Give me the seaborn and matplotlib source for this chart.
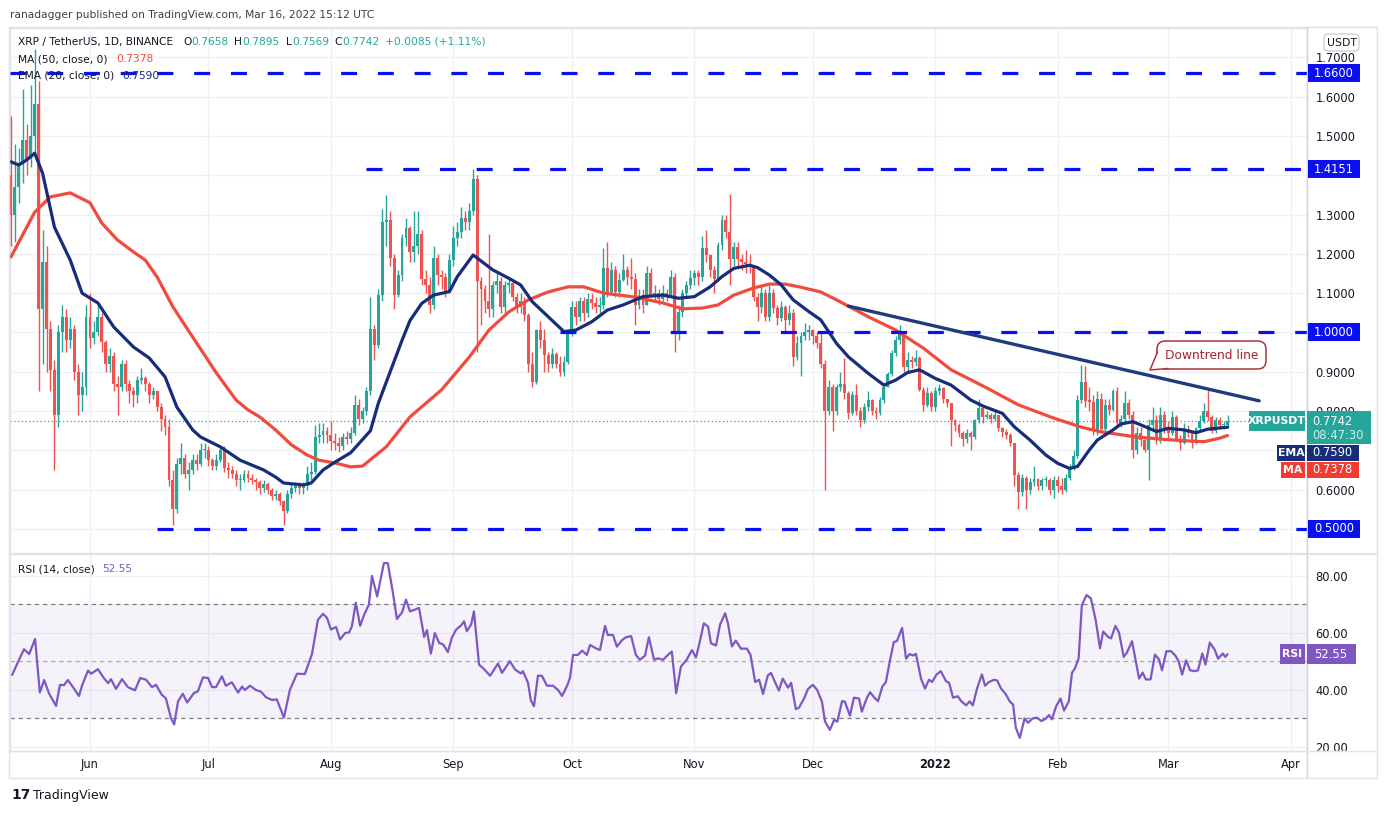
import numpy as np
import pandas as pd
import matplotlib
matplotlib.use("Agg")
import matplotlib.pyplot as plt
import seaborn as sns
from matplotlib.patches import Rectangle, Polygon, FancyBboxPatch
from matplotlib.lines import Line2D

W, H = 1386, 813

# ---- data (XRP/USDT daily, Binance) ----
start = pd.Timestamp("2021-05-12")
first_open = 1.40

close = [
    # May 12 - May 31
    1.30, 1.37, 1.43, 1.49, 1.44, 1.50, 1.58, 1.06, 1.18, 1.01,
    0.905, 0.79, 1.00, 1.04, 0.98, 1.01, 0.90, 0.84, 0.86, 1.04,
    # Jun
    0.985, 1.00, 1.04, 0.975, 0.92, 0.94, 0.87, 0.862, 0.92, 0.87,
    0.85, 0.84, 0.88, 0.885, 0.87, 0.84, 0.85, 0.81, 0.78, 0.76,
    0.625, 0.55, 0.665, 0.68, 0.64, 0.65, 0.675, 0.665, 0.70, 0.70,
    # Jul
    0.675, 0.66, 0.675, 0.70, 0.655, 0.65, 0.64, 0.625, 0.625, 0.64,
    0.63, 0.625, 0.62, 0.605, 0.615, 0.60, 0.585, 0.59, 0.57, 0.545,
    0.59, 0.605, 0.61, 0.605, 0.61, 0.64, 0.645, 0.735, 0.74, 0.75, 0.74,
    # Aug
    0.725, 0.72, 0.71, 0.735, 0.73, 0.745, 0.815, 0.78, 0.80, 0.85,
    1.01, 0.968, 1.095, 1.28, 1.285, 1.19, 1.095, 1.145, 1.24, 1.265,
    1.205, 1.22, 1.25, 1.137, 1.12, 1.07, 1.19, 1.145, 1.14, 1.105, 1.185,
    # Sep
    1.24, 1.255, 1.29, 1.28, 1.31, 1.39, 1.13, 1.11, 1.08, 1.06,
    1.12, 1.13, 1.065, 1.12, 1.125, 1.09, 1.065, 1.08, 1.045, 0.92,
    0.875, 1.006, 0.98, 0.942, 0.92, 0.945, 0.92, 0.90, 0.925, 1.00,
    # Oct
    1.065, 1.04, 1.08, 1.05, 1.085, 1.075, 1.065, 1.07, 1.165, 1.104,
    1.16, 1.104, 1.133, 1.16, 1.14, 1.135, 1.07, 1.095, 1.07, 1.15,
    1.095, 1.10, 1.085, 1.10, 1.09, 1.14, 0.998, 1.053, 1.10, 1.12, 1.138,
    # Nov
    1.15, 1.14, 1.214, 1.196, 1.159, 1.135, 1.222, 1.286, 1.256, 1.188,
    1.218, 1.188, 1.18, 1.175, 1.17, 1.09, 1.065, 1.10, 1.04, 1.10,
    1.062, 1.036, 1.065, 1.032, 1.05, 0.938, 0.972, 0.99, 1.002, 1.005,
    # Dec
    0.99, 0.972, 0.92, 0.80, 0.862, 0.80, 0.862, 0.87, 0.845, 0.794,
    0.841, 0.80, 0.777, 0.81, 0.828, 0.80, 0.795, 0.828, 0.862, 0.895,
    0.947, 0.98, 1.002, 0.913, 0.93, 0.925, 0.935, 0.854, 0.815, 0.845, 0.81,
    # Jan 2022
    0.85, 0.858, 0.83, 0.82, 0.777, 0.765, 0.745, 0.73, 0.745, 0.735,
    0.777, 0.807, 0.786, 0.79, 0.78, 0.79, 0.757, 0.746, 0.74, 0.718,
    0.637, 0.595, 0.629, 0.60, 0.62, 0.627, 0.61, 0.625, 0.625, 0.60, 0.625,
    # Feb
    0.61, 0.60, 0.63, 0.658, 0.685, 0.829, 0.875, 0.825, 0.824, 0.75,
    0.83, 0.755, 0.815, 0.802, 0.85, 0.77, 0.78, 0.82, 0.79, 0.70,
    0.745, 0.726, 0.70, 0.765, 0.777, 0.73, 0.79, 0.755,
    # Mar 1 - Mar 16
    0.745, 0.785, 0.73, 0.72, 0.755, 0.745, 0.72, 0.757, 0.775, 0.80,
    0.785, 0.75, 0.777, 0.765, 0.7658, 0.7742,
]

high = [
    1.55, 1.48, 1.47, 1.62, 1.53, 1.63, 1.72, 1.64, 1.26, 1.22,
    1.03, 0.93, 1.02, 1.07, 1.06, 1.04, 1.02, 0.92, 0.90, 1.07,
    1.10, 1.03, 1.07, 1.05, 0.98, 0.96, 0.95, 0.89, 0.93, 0.93,
    0.88, 0.86, 0.89, 0.91, 0.89, 0.875, 0.86, 0.85, 0.82, 0.79,
    0.78, 0.65, 0.68, 0.72, 0.69, 0.67, 0.69, 0.69, 0.72, 0.72,
    0.71, 0.68, 0.69, 0.71, 0.71, 0.67, 0.66, 0.65, 0.64, 0.65,
    0.65, 0.64, 0.63, 0.625, 0.625, 0.62, 0.605, 0.60, 0.595, 0.575,
    0.60, 0.615, 0.62, 0.62, 0.62, 0.66, 0.67, 0.765, 0.77, 0.77, 0.76,
    0.775, 0.745, 0.735, 0.745, 0.75, 0.76, 0.84, 0.83, 0.81, 0.86,
    1.09, 1.02, 1.11, 1.315, 1.35, 1.31, 1.20, 1.16, 1.25, 1.29,
    1.27, 1.31, 1.31, 1.26, 1.16, 1.14, 1.22, 1.20, 1.16, 1.15, 1.20,
    1.27, 1.28, 1.32, 1.31, 1.33, 1.415, 1.40, 1.14, 1.12, 1.25,
    1.13, 1.15, 1.14, 1.13, 1.14, 1.13, 1.10, 1.10, 1.09, 1.05,
    0.95, 1.01, 1.03, 1.01, 0.95, 0.96, 0.95, 0.94, 0.94, 1.01,
    1.08, 1.08, 1.09, 1.09, 1.10, 1.10, 1.09, 1.09, 1.215, 1.23,
    1.18, 1.17, 1.15, 1.20, 1.17, 1.19, 1.15, 1.11, 1.11, 1.17,
    1.165, 1.12, 1.11, 1.12, 1.11, 1.16, 1.15, 1.07, 1.11, 1.13, 1.16,
    1.16, 1.16, 1.245, 1.26, 1.20, 1.17, 1.23, 1.30, 1.30, 1.352,
    1.23, 1.23, 1.20, 1.21, 1.20, 1.17, 1.10, 1.12, 1.11, 1.12,
    1.11, 1.07, 1.08, 1.07, 1.07, 1.06, 0.99, 1.00, 1.025, 1.02,
    1.01, 1.00, 1.00, 0.93, 0.88, 0.87, 0.87, 0.90, 0.935, 0.85,
    0.85, 0.87, 0.81, 0.82, 0.85, 0.83, 0.81, 0.835, 0.87, 0.90,
    0.955, 0.99, 1.019, 1.00, 0.95, 0.94, 0.955, 0.94, 0.86, 0.86, 0.85,
    0.86, 0.87, 0.86, 0.83, 0.82, 0.78, 0.77, 0.75, 0.755, 0.75,
    0.78, 0.83, 0.81, 0.80, 0.795, 0.80, 0.79, 0.76, 0.755, 0.745,
    0.72, 0.645, 0.64, 0.635, 0.63, 0.66, 0.63, 0.63, 0.635, 0.63, 0.635,
    0.635, 0.63, 0.64, 0.665, 0.70, 0.84, 0.918, 0.915, 0.86, 0.84,
    0.85, 0.845, 0.83, 0.83, 0.855, 0.86, 0.79, 0.85, 0.83, 0.80,
    0.76, 0.76, 0.73, 0.78, 0.81, 0.79, 0.81, 0.80,
    0.775, 0.80, 0.79, 0.74, 0.77, 0.765, 0.75, 0.76, 0.79, 0.82,
    0.854, 0.79, 0.785, 0.785, 0.775, 0.7895,
]

low = [
    1.22, 1.23, 1.33, 1.38, 1.40, 1.42, 1.45, 0.85, 0.92, 0.90,
    0.85, 0.65, 0.76, 0.95, 0.95, 0.96, 0.88, 0.79, 0.80, 0.84,
    0.96, 0.97, 0.99, 0.95, 0.90, 0.90, 0.85, 0.79, 0.85, 0.85,
    0.82, 0.81, 0.82, 0.87, 0.85, 0.82, 0.83, 0.80, 0.75, 0.74,
    0.61, 0.51, 0.54, 0.64, 0.63, 0.60, 0.64, 0.65, 0.66, 0.68,
    0.66, 0.65, 0.65, 0.67, 0.645, 0.63, 0.63, 0.61, 0.60, 0.62,
    0.62, 0.615, 0.60, 0.59, 0.595, 0.59, 0.575, 0.575, 0.56, 0.51,
    0.54, 0.58, 0.595, 0.59, 0.59, 0.60, 0.625, 0.64, 0.72, 0.72, 0.72,
    0.70, 0.70, 0.695, 0.70, 0.715, 0.72, 0.74, 0.765, 0.77, 0.79,
    0.84, 0.93, 0.96, 1.08, 1.22, 1.17, 1.06, 1.09, 1.13, 1.22,
    1.18, 1.18, 1.20, 1.12, 1.10, 1.05, 1.06, 1.12, 1.11, 1.09, 1.10,
    1.17, 1.22, 1.24, 1.26, 1.26, 1.30, 0.95, 1.02, 1.05, 1.04,
    1.04, 1.10, 1.05, 1.05, 1.10, 1.08, 1.05, 1.05, 1.03, 0.90,
    0.86, 0.87, 0.96, 0.90, 0.90, 0.91, 0.91, 0.89, 0.89, 0.92,
    0.99, 1.02, 1.03, 1.03, 1.04, 1.06, 1.05, 1.05, 1.06, 1.09,
    1.10, 1.09, 1.09, 1.13, 1.12, 1.11, 1.02, 1.06, 1.05, 1.07,
    1.09, 1.08, 1.07, 1.08, 1.08, 1.09, 0.95, 0.98, 1.04, 1.09, 1.11,
    1.12, 1.12, 1.13, 1.18, 1.14, 1.10, 1.13, 1.21, 1.24, 1.12,
    1.17, 1.17, 1.16, 1.15, 1.15, 1.08, 1.03, 1.05, 1.03, 1.03,
    1.05, 1.02, 1.03, 1.00, 1.02, 0.915, 0.93, 0.89, 0.98, 0.98,
    0.97, 0.96, 0.91, 0.60, 0.79, 0.75, 0.79, 0.85, 0.83, 0.78,
    0.79, 0.79, 0.76, 0.77, 0.80, 0.79, 0.78, 0.79, 0.82, 0.86,
    0.89, 0.94, 0.97, 0.90, 0.90, 0.91, 0.915, 0.85, 0.80, 0.81, 0.80,
    0.80, 0.84, 0.82, 0.81, 0.71, 0.75, 0.735, 0.71, 0.72, 0.70,
    0.73, 0.77, 0.77, 0.78, 0.77, 0.775, 0.75, 0.735, 0.73, 0.71,
    0.61, 0.55, 0.585, 0.55, 0.59, 0.61, 0.60, 0.60, 0.61, 0.59, 0.58,
    0.595, 0.59, 0.595, 0.625, 0.65, 0.68, 0.82, 0.81, 0.80, 0.74,
    0.74, 0.75, 0.75, 0.79, 0.80, 0.76, 0.76, 0.77, 0.78, 0.68,
    0.69, 0.71, 0.695, 0.625, 0.75, 0.715, 0.72, 0.745,
    0.73, 0.74, 0.725, 0.70, 0.715, 0.735, 0.705, 0.715, 0.75, 0.77,
    0.775, 0.745, 0.745, 0.755, 0.755, 0.7569,
]

# 50-day MA (red) and 20-day EMA (navy), read at sample days
ma_day = [0, 6, 10, 15, 20, 23, 27, 31, 34, 37, 41, 47, 52, 57, 60, 63, 67, 71, 75, 78,
          82, 86, 89, 95, 101, 109, 116, 121, 126, 131, 136, 141, 145, 150, 158, 165,
          170, 175, 179, 183, 188, 192, 196, 200, 205, 209, 217, 224, 229, 231, 238,
          247, 255, 264, 271, 276, 285, 293, 302, 306, 308]
ma_val = [1.192, 1.306, 1.345, 1.355, 1.33, 1.278, 1.235, 1.205, 1.184, 1.141, 1.065,
          0.973, 0.897, 0.828, 0.803, 0.785, 0.752, 0.714, 0.688, 0.675, 0.668, 0.658,
          0.66, 0.709, 0.785, 0.854, 0.937, 1.006, 1.052, 1.083, 1.103, 1.116, 1.116,
          1.10, 1.09, 1.075, 1.06, 1.062, 1.07, 1.095, 1.113, 1.123, 1.123, 1.115,
          1.103, 1.083, 1.04, 1.006, 0.973, 0.96, 0.905, 0.859, 0.816, 0.782, 0.759,
          0.747, 0.734, 0.727, 0.722, 0.731, 0.7378]

ema_day = [0, 2, 4, 6, 8, 11, 15, 18, 22, 26, 31, 35, 39, 42, 46, 48, 53, 58, 64, 67,
           69, 74, 76, 79, 82, 86, 91, 93, 96, 99, 101, 104, 107, 111, 113, 117, 122,
           126, 129, 132, 136, 140, 143, 147, 151, 155, 160, 165, 169, 173, 177, 180,
           183, 187, 189, 192, 195, 198, 202, 205, 209, 212, 217, 221, 224, 227, 230,
           234, 238, 243, 246, 251, 254, 258, 262, 265, 268, 270, 273, 275, 279, 281,
           284, 286, 290, 293, 297, 300, 303, 308]
ema_val = [1.434, 1.426, 1.439, 1.456, 1.405, 1.268, 1.184, 1.10, 1.075, 1.014, 0.963,
           0.935, 0.887, 0.81, 0.752, 0.734, 0.709, 0.675, 0.65, 0.632, 0.617, 0.612,
           0.617, 0.65, 0.67, 0.694, 0.75, 0.82, 0.90, 0.98, 1.03, 1.074, 1.095, 1.104,
           1.142, 1.197, 1.159, 1.138, 1.121, 1.078, 1.04, 1.002, 1.006, 1.027, 1.057,
           1.07, 1.091, 1.095, 1.087, 1.091, 1.116, 1.142, 1.163, 1.171, 1.165, 1.146,
           1.121, 1.083, 1.053, 1.032, 0.972, 0.938, 0.896, 0.866, 0.879, 0.898, 0.905,
           0.883, 0.866, 0.828, 0.813, 0.794, 0.76, 0.726, 0.688, 0.667, 0.654, 0.659,
           0.701, 0.726, 0.752, 0.767, 0.773, 0.765, 0.748, 0.756, 0.752, 0.745, 0.754,
           0.759]

# RSI(14) read along the lower pane
rsi_day = [0.3, 1.8, 3.3, 4.6, 6.1, 7.3, 8.4, 9.6, 11.4, 12.4,
           13.4, 14.4, 15.7, 17.2, 18.0, 19.5, 20.3, 22.0, 23.5, 24.6,
           25.3, 26.6, 28.1, 29.6, 31.4, 32.7, 34.2, 35.7, 36.7, 38.2,
           39.2, 40.5, 41.3, 42.3, 43.5, 44.6, 46.3, 47.3, 48.6, 49.9,
           50.9, 51.9, 53.4, 54.4, 55.9, 57.5, 58.5, 59.2, 60.5, 62.0,
           63.3, 64.6, 66.1, 67.3, 69.1, 70.6, 72.4, 74.4, 76.2, 77.7,
           79.0, 80.0, 81.0, 82.3, 83.3, 84.6, 85.6, 86.3, 87.3, 88.4,
           89.4, 90.6, 91.4, 92.7, 94.4, 95.4, 96.7, 97.7, 99.0, 100.0,
           101.0, 102.3, 103.3, 104.6, 105.3, 106.3, 107.3, 108.4, 109.4, 110.6,
           111.6, 112.7, 113.9, 114.7, 115.4, 116.5, 117.2, 118.5, 119.7, 121.3,
           123.3, 124.3, 126.3, 127.6, 129.1, 129.6, 130.9, 131.6, 132.4, 133.4,
           134.4, 135.7, 137.2, 138.5, 139.5, 140.8, 141.5, 142.3, 143.5, 144.6,
           145.8, 146.6, 148.1, 149.1, 150.4, 151.1, 152.4, 153.4, 154.7, 155.7,
           157.0, 158.2, 159.2, 160.5, 161.5, 162.8, 163.8, 165.1, 166.1, 167.3,
           168.4, 169.6, 171.0, 172.4, 173.4, 174.2, 175.4, 176.5, 177.2, 178.5,
           179.5, 180.8, 181.5, 182.5, 183.5, 184.8, 186.3, 187.2, 188.4, 189.4,
           190.4, 191.6, 192.4, 193.7, 194.4, 195.4, 196.7, 197.5, 198.7, 199.5,
           200.8, 201.8, 203.0, 204.1, 205.3, 206.1, 207.3, 208.4, 209.2, 210.4,
           211.1, 212.4, 213.4, 214.7, 215.4, 216.7, 217.5, 218.7, 219.5, 220.6,
           221.5, 222.5, 223.5, 224.3, 225.6, 226.6, 227.5, 228.4, 229.1, 230.4,
           231.4, 232.4, 233.2, 234.3, 235.4, 236.7, 237.5, 238.5, 239.7, 240.5,
           241.8, 242.7, 243.5, 244.6, 245.8, 246.6, 247.6, 248.9, 249.7, 250.6,
           251.8, 252.9, 253.7, 254.4, 255.4, 256.6, 257.5, 258.6, 259.7, 260.9,
           262.0, 262.8, 263.5, 264.6, 265.7, 266.6, 267.8, 268.6, 269.4, 270.3,
           271.1, 272.3, 273.4, 274.6, 275.7, 276.5, 277.7, 278.5, 279.6, 280.5,
           281.7, 282.5, 283.8, 284.8, 285.6, 286.5, 287.3, 288.5, 289.6, 290.6,
           291.4, 292.5, 293.7, 294.8, 295.6, 296.5, 297.5, 298.5, 299.7, 300.5,
           301.6, 302.4, 303.5, 304.7, 305.6, 306.8, 307.4, 308.0]
rsi_val = [45.3, 49.9, 54.3, 52.6, 57.9, 39.1, 43.5, 38.9, 34.4, 41.8,
           41.7, 43.5, 41.0, 37.9, 41.6, 46.8, 45.7, 47.3, 44.2, 42.4,
           43.8, 40.4, 43.8, 41.0, 39.9, 44.2, 43.6, 41.0, 41.8, 38.3,
           37.1, 30.2, 27.9, 36.0, 38.7, 35.6, 38.9, 39.5, 44.4, 44.2,
           41.0, 41.0, 44.8, 41.5, 42.7, 39.1, 41.2, 40.0, 41.5, 40.0,
           39.4, 37.4, 36.5, 36.7, 30.3, 40.0, 45.7, 45.6, 52.6, 64.6,
           66.7, 65.3, 61.2, 62.1, 57.7, 60.0, 60.2, 62.3, 70.6, 62.5,
           66.4, 69.9, 80.0, 72.8, 84.5, 84.5, 74.0, 64.9, 67.2, 71.7,
           67.6, 68.2, 68.8, 58.6, 61.0, 52.8, 60.0, 56.5, 56.0, 53.3,
           58.3, 61.2, 62.6, 64.1, 60.6, 63.0, 67.6, 48.9, 47.4, 45.0,
           49.3, 46.0, 50.1, 47.2, 45.8, 46.6, 42.5, 36.4, 34.3, 45.0,
           45.0, 41.5, 41.5, 40.0, 37.9, 41.5, 44.2, 52.3, 52.3, 53.8,
           52.3, 55.8, 54.6, 54.0, 62.5, 59.3, 59.3, 55.2, 57.5, 58.5,
           58.9, 52.3, 50.6, 52.0, 58.5, 50.6, 51.1, 50.6, 52.0, 53.5,
           38.9, 48.2, 50.5, 54.0, 51.4, 55.8, 63.4, 62.2, 56.4, 55.6,
           62.9, 66.9, 63.4, 55.3, 57.3, 54.5, 54.5, 52.4, 42.8, 43.6,
           38.6, 45.1, 46.0, 41.9, 39.8, 44.0, 40.8, 42.5, 33.3, 33.8,
           37.1, 40.4, 41.8, 40.0, 35.9, 28.9, 26.0, 29.5, 28.9, 36.1,
           35.9, 31.0, 37.3, 37.0, 32.4, 37.3, 39.2, 37.1, 36.1, 41.2,
           42.8, 50.2, 56.8, 57.2, 61.8, 51.0, 52.6, 52.1, 52.7, 43.9,
           40.5, 43.6, 42.8, 45.4, 46.6, 43.1, 42.5, 37.3, 37.8, 36.2,
           34.6, 36.0, 34.6, 40.6, 45.5, 41.5, 42.8, 43.6, 43.3, 40.6,
           38.6, 35.9, 34.9, 26.7, 23.2, 30.0, 28.5, 30.0, 30.3, 29.1,
           30.0, 31.2, 29.7, 34.3, 37.0, 32.8, 36.0, 46.0, 47.7, 51.2,
           69.8, 73.3, 72.1, 64.6, 54.6, 60.5, 58.7, 58.1, 62.5, 60.2,
           51.6, 53.1, 57.1, 49.8, 44.0, 46.1, 43.7, 43.7, 52.4, 50.8,
           46.9, 53.6, 53.6, 52.0, 50.1, 45.4, 50.4, 46.9, 46.6, 46.9,
           52.8, 48.9, 56.6, 54.2, 51.0, 52.8, 51.6, 52.55]

# drawn levels and trend line
levels = [1.66, 1.4151, 1.0, 0.5]
level_from = ["2021-05-01", "2021-08-10", "2021-09-28", "2021-06-18"]
trend_dates = ["2021-12-10", "2022-03-24"]
trend_vals = [1.067, 0.826]

# price ticks; 0.7 and 1.4 sit under the value boxes on the original
price_ticks = [0.5, 0.6, 0.8, 0.9, 1.0, 1.1, 1.2, 1.3, 1.5, 1.6, 1.7]

UP, DOWN = "#26a69a", "#ef5350"
MA_C, EMA_C, RSI_C = "#f04b3c", "#172d7a", "#7e57c2"
LEVEL_C = "#0a10f0"
TXT = "#131722"
GRID = "#eef0f5"

assert len(close) == len(high) == len(low)
assert len(rsi_day) == len(rsi_val)

df = pd.DataFrame({"close": close, "high": high, "low": low})
df["day"] = np.arange(len(df))
df["open"] = df["close"].shift(1).fillna(first_open)
df["up"] = df["close"] >= df["open"]

def to_day(d):
    return (pd.Timestamp(d) - start).days

sns.set_theme(style="white")
plt.rcParams["font.family"] = ["DejaVu Sans"]

fig = plt.figure(figsize=(W / 100, H / 100), dpi=100)

def fx(px):
    return px / W

def fy(py):
    return 1 - py / H

ax = fig.add_axes([fx(10), fy(553), fx(1307) - fx(10), fy(28) - fy(553)])
axr = fig.add_axes([fx(10), fy(751), fx(1307) - fx(10), fy(554) - fy(751)], sharex=ax)

x_left = -0.25
x_right = x_left + (1307 - 10) / 3.95
ax.set_xlim(x_left, x_right)
ax.set_ylim(0.4389, 1.7745)
axr.set_ylim(18.6, 87.7)

months = pd.date_range("2021-06-01", "2022-04-01", freq="MS")
mdays = [to_day(m) for m in months]
mlabels = ["2022" if m.month == 1 else m.strftime("%b") for m in months]

for a in (ax, axr):
    a.set_facecolor("white")
    a.set_xticks(mdays)
    a.grid(True, color=GRID, linewidth=1)
    a.set_axisbelow(True)
    for s in a.spines.values():
        s.set_color("#e0e3eb")
        s.set_linewidth(1)
    a.yaxis.tick_right()
    a.tick_params(axis="both", length=0, labelsize=8.3, labelcolor=TXT)

ax.set_yticks(price_ticks)
ax.set_yticklabels([f"{v:.4f}" for v in price_ticks])
ax.yaxis.set_minor_locator(matplotlib.ticker.FixedLocator([0.7, 1.4]))
ax.grid(True, which="minor", axis="y", color=GRID, linewidth=1)
ax.tick_params(axis="y", which="both", pad=6, length=0)
ax.tick_params(axis="x", labelbottom=False)

axr.set_yticks([20, 40, 60, 80])
axr.set_yticklabels(["20.00", "40.00", "60.00", "80.00"])
axr.tick_params(axis="y", pad=6)
axr.set_xticklabels(mlabels)
axr.tick_params(axis="x", pad=5)
for lab in axr.get_xticklabels():
    if lab.get_text() == "2022":
        lab.set_fontweight("bold")

# candles
cols = np.where(df["up"], UP, DOWN)
ax.vlines(df["day"], df["low"], df["high"], colors=cols, linewidth=1, zorder=3)
body_lo = np.minimum(df["open"], df["close"])
body_h = np.maximum((df["close"] - df["open"]).abs(), 0.003)
ax.bar(df["day"], body_h, bottom=body_lo, width=0.74, color=cols, linewidth=0, zorder=3)

# moving averages
sns.lineplot(x=ma_day, y=ma_val, ax=ax, color=MA_C, linewidth=2.3, estimator=None, zorder=4)
sns.lineplot(x=ema_day, y=ema_val, ax=ax, color=EMA_C, linewidth=2.3, estimator=None, zorder=4)

# last price dotted line
ax.axhline(close[-1], color=UP, linestyle=(0, (1, 2)), linewidth=0.9, zorder=2)

# horizontal levels
for lv, d0 in zip(levels, level_from):
    ax.hlines(lv, max(to_day(d0), x_left), x_right, colors=LEVEL_C, linewidth=2.3,
              linestyles=[(0, (5, 6.5))], zorder=5)

# downtrend line
sns.lineplot(x=[to_day(d) for d in trend_dates], y=trend_vals, ax=ax, color="#1f3a7d",
             linewidth=2.4, estimator=None, zorder=6)

# RSI pane
axr.axhspan(30, 70, color=RSI_C, alpha=0.07, zorder=1, linewidth=0)
for lv, al in ((70, 1.0), (50, 0.6), (30, 1.0)):
    axr.axhline(lv, color="#787b86", alpha=al, linestyle=(0, (3.5, 3)), linewidth=0.9, zorder=2)
sns.lineplot(x=rsi_day, y=rsi_val, ax=axr, color=RSI_C, linewidth=1.6, estimator=None, zorder=4)
for a in (ax, axr):
    a.set_xlabel("")
    a.set_ylabel("")

# ---- frame lines ----
def hline_px(x0, x1, y, color="#e0e3eb", lw=1):
    fig.add_artist(Line2D([fx(x0), fx(x1)], [fy(y), fy(y)], transform=fig.transFigure,
                          color=color, linewidth=lw, zorder=2))

def vline_px(x, y0, y1, color="#e0e3eb", lw=1):
    fig.add_artist(Line2D([fx(x), fx(x)], [fy(y0), fy(y1)], transform=fig.transFigure,
                          color=color, linewidth=lw, zorder=2))

hline_px(9, 1377, 27)
hline_px(9, 1377, 778)
vline_px(9, 27, 778)
vline_px(1377, 27, 778)
vline_px(1307, 27, 778, color="#d1d4dc")
hline_px(9, 1377, 553.5, lw=1.5)
hline_px(9, 1377, 751)

# ---- right-side labels ----
def ypx(a, v):
    return H - a.transData.transform((0, v))[1]

def box(x0, x1, y0, y1, fc, ec=None, lw=0.0, z=5):
    fig.add_artist(Rectangle((fx(x0), fy(y1)), fx(x1) - fx(x0), fy(y0) - fy(y1),
                             transform=fig.transFigure, facecolor=fc,
                             edgecolor=ec if ec else fc, linewidth=lw, zorder=z))

def label(x, y, s, color="white", size=8.3, weight="normal", ha="center", z=6):
    fig.text(fx(x), fy(y), s, color=color, fontsize=size, fontweight=weight,
             ha=ha, va="center", zorder=z)

for lv in levels:
    yc = ypx(ax, lv)
    box(1308, 1360, yc - 9, yc + 9, LEVEL_C)
    label(1334, yc, f"{lv:.4f}")

yc = ypx(ax, close[-1])
box(1249, 1305, yc - 10, yc + 10, UP)
label(1277, yc, "XRPUSDT", weight="bold", size=7.8)
box(1307, 1371, yc - 10, yc + 23, UP)
label(1312, yc, f"{close[-1]:.4f}", ha="left")
label(1312, yc + 14, "08:47:30", color="#d3efeb", ha="left")

yc = yc + 31.5
box(1277, 1305, yc - 8, yc + 8, EMA_C)
label(1291, yc, "EMA", weight="bold", size=7.8)
box(1307, 1359, yc - 8, yc + 8, EMA_C)
label(1312, yc, "0.7590", ha="left")

yc = yc + 17
box(1281, 1305, yc - 8, yc + 8, "#f23c2f")
label(1293, yc, "MA", weight="bold", size=7.8)
box(1307, 1359, yc - 8, yc + 8, "#f23c2f")
label(1312, yc, "0.7378", ha="left")

yc = ypx(axr, 52.55)
box(1280, 1305, yc - 10, yc + 10, RSI_C)
label(1292, yc, "RSI", weight="bold", size=7.8)
box(1307, 1356, yc - 10, yc + 10, RSI_C)
label(1331, yc, "52.55")

fig.add_artist(FancyBboxPatch((fx(1324), fy(51)), fx(1359) - fx(1324), fy(34) - fy(51),
                              boxstyle="round,pad=0,rounding_size=0.003",
                              mutation_aspect=W / H, transform=fig.transFigure,
                              facecolor="white", edgecolor="#c9cbd2", linewidth=0.9, zorder=6))
label(1341.5, 42.5, "USDT", color=TXT, size=7.8, z=7)

# ---- callout ----
fig.add_artist(FancyBboxPatch((fx(1157), fy(369)), fx(1266) - fx(1157), fy(341) - fy(369),
                              boxstyle="round,pad=0,rounding_size=0.006",
                              mutation_aspect=W / H, transform=fig.transFigure,
                              facecolor="white", edgecolor="#b0313a", linewidth=1.1, zorder=7))
fig.add_artist(Polygon([(fx(1157.5), fy(352)), (fx(1150), fy(370)), (fx(1168), fy(368.5)),
                        (fx(1162), fy(362))], closed=True, transform=fig.transFigure,
                       facecolor="white", edgecolor="none", zorder=8))
fig.add_artist(Line2D([fx(1157.5), fx(1150), fx(1168)], [fy(352), fy(370), fy(368.5)],
                      transform=fig.transFigure, color="#b0313a", linewidth=1.1, zorder=9))
label(1212, 355, "Downtrend line", color="#a3222e", size=8.8, z=10)

# ---- header texts ----
fig.text(fx(10), fy(15), "ranadagger published on TradingView.com, Mar 16, 2022 15:12 UTC",
         fontsize=7.7, color="#3b3e47", va="center")

def legend_row(y, parts):
    for x, s, c in parts:
        fig.text(fx(x), fy(y), s, fontsize=7.7, color=c, va="center", zorder=8)

legend_row(42, [(18, "XRP / TetherUS, 1D, BINANCE", TXT),
                (183, "O", TXT), (191, "0.7658", UP),
                (234, "H", TXT), (242, "0.7895", UP),
                (286, "L", TXT), (292, "0.7569", UP),
                (334, "C", TXT), (342, "0.7742", UP),
                (385, "+0.0085 (+1.11%)", UP)])
legend_row(59, [(18, "MA (50, close, 0)", TXT), (116, "0.7378", MA_C)])
legend_row(76, [(18, "EMA (20, close, 0)", TXT), (122, "0.7590", EMA_C)])
legend_row(569, [(18, "RSI (14, close)", TXT), (102, "52.55", RSI_C)])

# TradingView logo
fig.text(fx(11), fy(795), "17", fontsize=10, fontweight="bold", color=TXT, va="center")
fig.text(fx(33), fy(795), "TradingView", fontsize=9, color=TXT, va="center")

fig.savefig("out.png", dpi=100, facecolor="white")
